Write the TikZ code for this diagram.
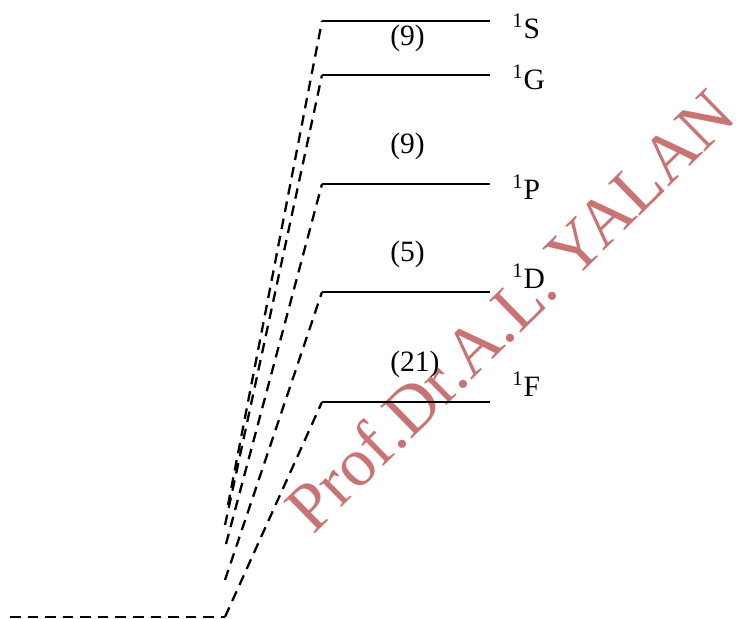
\documentclass[tikz,border=0pt]{standalone}
\usepackage{fontspec}
\setmainfont{Liberation Serif}
\usetikzlibrary{positioning}
\definecolor{stampred}{HTML}{C87474}

\begin{document}
\begin{tikzpicture}[x=0.02cm, y=-0.02cm,
  level/.style={line width=1.3pt},
  link/.style={line width=1.3pt, dash pattern=on 6pt off 4pt},
  term/.style={font=\fontsize{16.8}{18}\selectfont, anchor=west, inner sep=0pt},
  degen/.style={font=\fontsize{16.8}{18}\selectfont, anchor=west, inner sep=0pt}]
  \useasboundingbox (0,0) rectangle (751,619);

  %% Watermark
  \node[rotate=44.4, text=stampred, inner sep=0pt,
    font=\fontsize{39}{40}\selectfont] (stamp) at (510,310)
    {Prof.Dr.A.L.\ YALAN};

  %% Ground configuration
  \coordinate (g0) at (10,617);
  \coordinate (g1) at (225,617);
  \draw[link] (g0) -- (g1);

  %% Levels: term / level y / foot x / foot y
  \foreach \t/\ly/\fx/\fy in {S/21/228/505, G/75/225/525, P/184/226/544,
                              D/292/225/580, F/402/225/617} {
    \coordinate (\t-l) at (322,\ly);
    \coordinate (\t-r) at (490,\ly);
    \coordinate (\t-foot) at (\fx,\fy);
    \draw[level] (\t-l) -- (\t-r);
    \draw[link] (\t-foot) -- (\t-l);
  }

  %% Term symbols
  \node[term] (tS) at (512,26)  {\textsuperscript{1}S};
  \node[term] (tG) at (512,77)  {\textsuperscript{1}G};
  \node[term] (tP) at (512,187) {\textsuperscript{1}P};
  \node[term] (tD) at (512,276) {\textsuperscript{1}D};
  \node[term] (tF) at (512,384) {\textsuperscript{1}F};

  %% Degeneracies
  \node[degen] (nS) at (390,38)  {(9)};
  \node[degen] (nP) at (390,146) {(9)};
  \node[degen] (nD) at (390,254) {(5)};
  \node[degen] (nF) at (390,364) {(21)};
\end{tikzpicture}
\end{document}
